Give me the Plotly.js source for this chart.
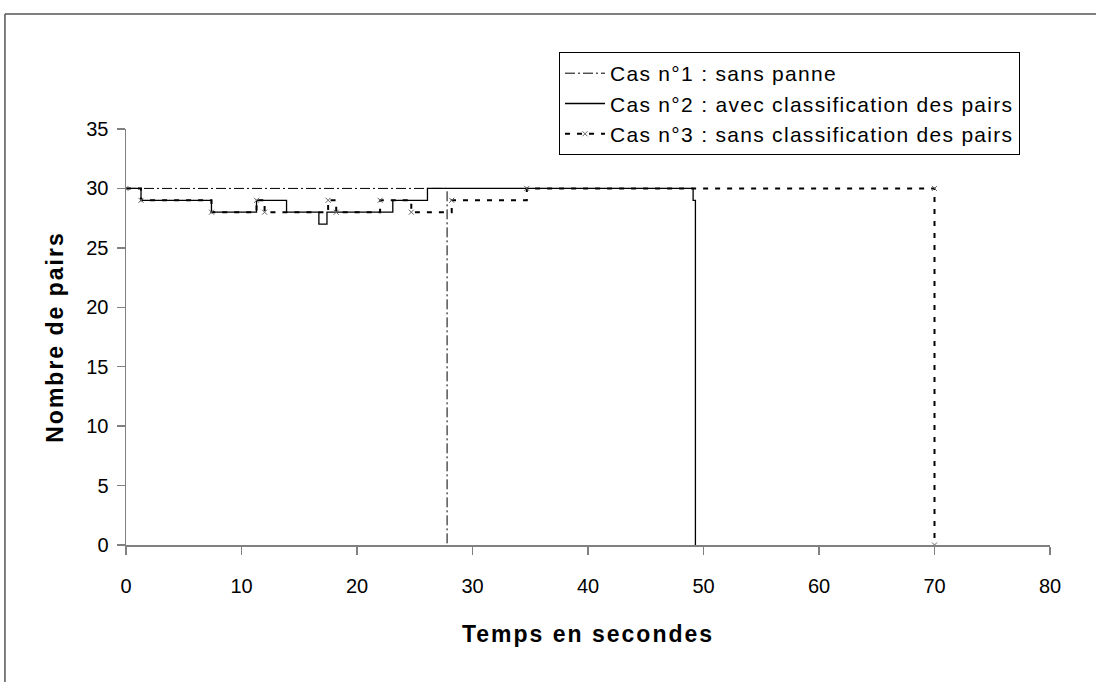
<!DOCTYPE html>
<html>
<head>
<meta charset="utf-8">
<script src="https://cdn.plot.ly/plotly-3.0.1.min.js"></script>
<style>
html,body{margin:0;padding:0;background:#fff;}
#chart{width:1096px;height:682px;}
.legendtext{letter-spacing:1.3px;}
.xtitle, .ytitle{letter-spacing:2px;}
</style>
</head>
<body>
<div id="chart"></div>
<script>
// Case 1: sans panne
const case1Names = "Cas n°1 : sans panne";
const case1X = [0, 27.8, 27.8];
const case1Y = [30, 30, 0];

// Case 2: avec classification des pairs
const case2Names = "Cas n°2 : avec classification des pairs";
const case2X = [0, 1.3, 7.4, 11.3, 13.9, 16.7, 17.4, 23.1, 26.1, 49.1, 49.3, 49.3];
const case2Y = [30, 29, 28, 29, 28, 27, 28, 29, 30, 29, 0, 0];

// Case 3: sans classification des pairs
const case3Names = "Cas n°3 : sans classification des pairs";
const case3X = [0, 1.3, 7.4, 11.3, 12.0, 17.5, 18.2, 22.0, 24.7, 28.2, 34.7, 70, 70];
const case3Y = [30, 29, 28, 29, 28, 29, 28, 29, 28, 29, 30, 30, 0];

const xTicks = [0, 10, 20, 30, 40, 50, 60, 70, 80];
const yTicks = [0, 5, 10, 15, 20, 25, 30, 35];

const font = "Liberation Sans, Arial, sans-serif";

const traces = [
  {x: case1X, y: case1Y, name: case1Names, mode: "lines", line: {shape: "hv", color: "#000", width: 1, dash: "10px,3px,2px,3px"}},
  {x: case2X, y: case2Y, name: case2Names, mode: "lines", line: {shape: "hv", color: "#000", width: 1.3}},
  {x: case3X, y: case3Y, name: case3Names, mode: "lines+markers", line: {shape: "hv", color: "#000", width: 2, dash: "5px,7px"},
   marker: {symbol: "x-thin", size: 5, color: "#666", line: {color: "#666", width: 1}}}
];

const layout = {
  width: 1096, height: 682,
  margin: {l: 126, r: 46, t: 129, b: 137},
  paper_bgcolor: "#fff", plot_bgcolor: "#fff",
  font: {family: font, color: "#000", size: 20},
  showlegend: true,
  legend: {
    x: 0.4686, y: 1.185, xanchor: "left", yanchor: "top",
    bordercolor: "#000", borderwidth: 1, bgcolor: "#fff",
    font: {family: font, size: 21, color: "#000"},
    tracegroupgap: 0, itemwidth: 40
  },
  xaxis: {
    range: [0, 80], tickvals: xTicks, ticktext: xTicks.map(String),
    showgrid: false, zeroline: false, showline: true, linecolor: "#808080", linewidth: 1.5,
    ticks: "outside", ticklen: 8, tickcolor: "#808080", tickwidth: 1.5, ticklabelstandoff: 14,
    tickfont: {family: font, size: 20, color: "#000"},
    title: {text: "<b>Temps en secondes</b>", font: {family: font, size: 23, color: "#000"}, standoff: 30}
  },
  yaxis: {
    range: [0, 35], tickvals: yTicks, ticktext: yTicks.map(String),
    showgrid: false, zeroline: false, showline: true, linecolor: "#808080", linewidth: 1.5,
    ticks: "outside", ticklen: 8, tickcolor: "#808080", tickwidth: 1.5, ticklabelstandoff: 4,
    tickfont: {family: font, size: 20, color: "#000"},
    title: {text: "<b>Nombre de pairs</b>", font: {family: font, size: 23, color: "#000"}, standoff: 16}
  },
  shapes: [
    {type: "line", xref: "paper", yref: "paper", x0: -0.131, x1: 1.06, y0: 1.2764, y1: 1.2764, line: {color: "#555", width: 1.5}},
    {type: "line", xref: "paper", yref: "paper", x0: -0.131, x1: -0.131, y0: 1.2764, y1: -0.34, line: {color: "#555", width: 1.5}}
  ]
};

Plotly.newPlot("chart", traces, layout, {displayModeBar: false, staticPlot: true});
</script>
</body>
</html>
